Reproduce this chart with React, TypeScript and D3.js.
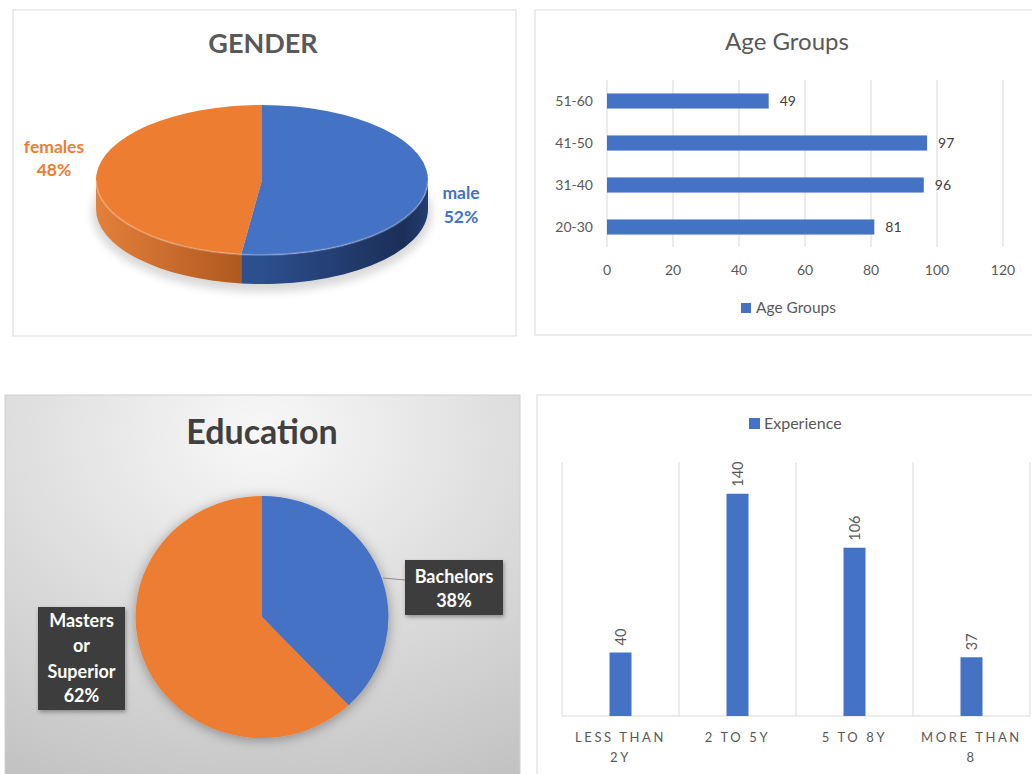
import React from 'react';
import * as d3 from 'd3';

// gender pie
const genderLabels = ['male', 'females'];
const genderValues = [52, 48];

// age groups bar chart (bottom to top)
const ageGroups = ['20-30', '31-40', '41-50', '51-60'];
const ageValues = [81, 96, 97, 49];
const ageTicks = [0, 20, 40, 60, 80, 100, 120];

// education pie
const educationLabels = ['Bachelors', 'Masters or Superior'];
const educationValues = [38, 62];

// experience column chart
const experienceCats = ['LESS THAN 2Y', '2 TO 5Y', '5 TO 8Y', 'MORE THAN 8'];
const experienceLines = [['LESS THAN', '2Y'], ['2 TO 5Y'], ['5 TO 8Y'], ['MORE THAN', '8']];
const experienceValues = [40, 140, 106, 37];

const BLUE = '#4472C4';
const ORANGE = '#ED7D31';
const FONT = "Lato, 'Open Sans', sans-serif";

const GenderPie: React.FC = () => {
  const cx = 262, cy = 180, rx = 166, ry = 75, depth = 29;
  const slices = d3.pie<number>().sort(null)(genderValues);
  const arc = d3.arc<d3.PieArcDatum<number>>().innerRadius(0).outerRadius(rx);
  const colors = [BLUE, ORANGE];
  const sides = ['url(#blueSide)', 'url(#orangeSide)'];

  const px = (a: number) => rx * Math.sin(a);
  const py = (a: number) => -ry * Math.cos(a);
  const sidePath = (a0: number, a1: number) => {
    const s = Math.max(a0, Math.PI / 2);
    const e = Math.min(a1, (3 * Math.PI) / 2);
    if (s >= e) return null;
    return `M${px(s)},${py(s)} A${rx},${ry} 0 0 1 ${px(e)},${py(e)} L${px(e)},${py(e) + depth} A${rx},${ry} 0 0 0 ${px(s)},${py(s) + depth} Z`;
  };
  const rimPath = (a0: number, a1: number) => {
    const s = Math.max(a0, Math.PI / 2);
    const e = Math.min(a1, (3 * Math.PI) / 2);
    if (s >= e) return null;
    return `M${px(s)},${py(s)} A${rx},${ry} 0 0 1 ${px(e)},${py(e)}`;
  };

  return (
    <g fontFamily={FONT}>
      <rect x={13} y={10} width={503} height={326} fill="#fff" stroke="#d9d9d9" />
      <text x={263} y={53} textAnchor="middle" fontWeight={700} fontSize={27} fill="#595959">GENDER</text>
      <g transform={`translate(${cx},${cy})`}>
        <ellipse cx={0} cy={depth + 4} rx={rx + 4} ry={ry + 4} fill="#000" opacity={0.15} filter="url(#blur4)" />
        {slices.map((s, i) => {
          const d = sidePath(s.startAngle, s.endAngle);
          return d ? <path key={'s' + i} d={d} fill={sides[i]} /> : null;
        })}
        <g transform={`scale(1,${ry / rx})`}>
          {slices.map((s, i) => (
            <path key={'t' + i} d={arc(s) || ''} fill={colors[i]} />
          ))}
        </g>
        {slices.map((s, i) => {
          const d = rimPath(s.startAngle, s.endAngle);
          return d ? <path key={'r' + i} d={d} fill="none" stroke="#fff" strokeOpacity={0.22} strokeWidth={2} /> : null;
        })}
      </g>
      <text x={54} y={153} textAnchor="middle" fontWeight={700} fontSize={17.5} fill={ORANGE}>{genderLabels[1]}</text>
      <text x={54} y={176} textAnchor="middle" fontWeight={700} fontSize={17.5} fill={ORANGE}>{genderValues[1]}%</text>
      <text x={461} y={199} textAnchor="middle" fontWeight={700} fontSize={17.5} fill={BLUE}>{genderLabels[0]}</text>
      <text x={461} y={223} textAnchor="middle" fontWeight={700} fontSize={17.5} fill={BLUE}>{genderValues[0]}%</text>
    </g>
  );
};

const AgeChart: React.FC = () => {
  const x = d3.scaleLinear().domain([0, 120]).range([607, 1003]);
  const y = d3.scaleBand<string>().domain([...ageGroups].reverse()).range([80, 248]).paddingInner(0.64).paddingOuter(0.32);
  return (
    <g fontFamily={FONT}>
      <rect x={535} y={10} width={520} height={325} fill="#fff" stroke="#d9d9d9" />
      <text x={787} y={50} textAnchor="middle" fontSize={24} fill="#595959">Age Groups</text>
      {ageTicks.map(t => (
        <g key={t}>
          <line x1={x(t)} x2={x(t)} y1={80} y2={247} stroke="#d9d9d9" />
          <text x={x(t)} y={275} textAnchor="middle" fontSize={14} fill="#595959">{t}</text>
        </g>
      ))}
      {ageGroups.map((g, i) => (
        <g key={g}>
          <rect x={x(0)} y={y(g)!} width={x(ageValues[i]) - x(0)} height={y.bandwidth()} fill={BLUE} />
          <text x={593} y={y(g)! + y.bandwidth() / 2 + 5} textAnchor="end" fontSize={14} fill="#595959">{g}</text>
          <text x={x(ageValues[i]) + 11} y={y(g)! + y.bandwidth() / 2 + 5} fontSize={14} fill="#404040">{ageValues[i]}</text>
        </g>
      ))}
      <rect x={741} y={303} width={10} height={10} fill={BLUE} />
      <text x={756} y={313} fontSize={15.5} fill="#595959">Age Groups</text>
    </g>
  );
};

const EducationPie: React.FC = () => {
  const cx = 262, cy = 617, r = 121;
  const slices = d3.pie<number>().sort(null)(educationValues);
  const arc = d3.arc<d3.PieArcDatum<number>>().innerRadius(0).outerRadius(r);
  const colors = [BLUE, ORANGE];
  return (
    <g fontFamily={FONT}>
      <rect x={5} y={395} width={515} height={390} fill="url(#eduBg)" stroke="#d0d0d0" />
      <text x={262} y={444} textAnchor="middle" fontSize={34} fontWeight={700} fill="#404040">Education</text>
      <g transform={`translate(${cx},${cy}) scale(1.045,1)`} filter="url(#pieShadow)">
        {slices.map((s, i) => (
          <path key={i} d={arc(s) || ''} fill={colors[i]} />
        ))}
      </g>
      <line x1={383} y1={578} x2={405} y2={580} stroke="#8c8c8c" strokeWidth={1} />
      <rect x={405} y={560} width={98} height={55} fill="#3d3d3d" filter="url(#boxShadow)" />
      <text x={454} y={583} textAnchor="middle" fontSize={18} fontWeight={700} fill="#fff">{educationLabels[0]}</text>
      <text x={454} y={607} textAnchor="middle" fontSize={18} fontWeight={700} fill="#fff">{educationValues[0]}%</text>
      <rect x={38} y={607} width={87} height={103} fill="#3d3d3d" filter="url(#boxShadow)" />
      {['Masters', 'or', 'Superior'].map((w, i) => (
        <text key={w} x={81.5} y={[627, 652, 678][i]} textAnchor="middle" fontSize={18} fontWeight={700} fill="#fff">{w}</text>
      ))}
      <text x={81.5} y={702} textAnchor="middle" fontSize={18} fontWeight={700} fill="#fff">{educationValues[1]}%</text>
    </g>
  );
};

const ExperienceChart: React.FC = () => {
  const x = d3.scaleBand<string>().domain(experienceCats).range([562, 1030]);
  const y = d3.scaleLinear().domain([0, 160]).range([716, 462]);
  const barW = 22;
  return (
    <g fontFamily={FONT}>
      <rect x={537} y={395} width={520} height={390} fill="#fff" stroke="#d9d9d9" />
      <rect x={749} y={418} width={11} height={11} fill={BLUE} />
      <text x={764} y={429} fontSize={16} fill="#595959">Experience</text>
      {experienceCats.map(c => (
        <line key={c} x1={x(c)!} x2={x(c)!} y1={462} y2={716} stroke="#d9d9d9" />
      ))}
      <line x1={1030} x2={1030} y1={462} y2={716} stroke="#d9d9d9" />
      <line x1={562} x2={1030} y1={716} y2={716} stroke="#d9d9d9" />
      {experienceCats.map((c, i) => {
        const mid = x(c)! + x.bandwidth() / 2;
        return (
          <g key={c}>
            <rect x={mid - barW / 2} y={y(experienceValues[i])} width={barW} height={y(0) - y(experienceValues[i])} fill={BLUE} />
            <text transform={`translate(${mid + 5},${y(experienceValues[i]) - 7}) rotate(-90)`} fontSize={14.5} fill="#595959">{experienceValues[i]}</text>
            {experienceLines[i].map((ln, j) => (
              <text key={j} x={mid} y={742 + j * 20} textAnchor="middle" fontSize={13} letterSpacing={2.6} fill="#595959">{ln}</text>
            ))}
          </g>
        );
      })}
    </g>
  );
};

export default function App() {
  return (
    <svg width={1032} height={774} style={{ position: 'absolute', left: 0, top: 0, background: '#fff' }}>
      <defs>
        <linearGradient id="orangeSide" gradientUnits="userSpaceOnUse" x1={-166} x2={0} y1={0} y2={0}>
          <stop offset="0" stopColor="#e3803a" />
          <stop offset="1" stopColor="#a8531c" />
        </linearGradient>
        <linearGradient id="blueSide" gradientUnits="userSpaceOnUse" x1={0} x2={166} y1={0} y2={0}>
          <stop offset="0" stopColor="#2c4f8e" />
          <stop offset="0.85" stopColor="#1b2f58" />
          <stop offset="1" stopColor="#243d70" />
        </linearGradient>
        <radialGradient id="eduBg" cx="50%" cy="10%" r="100%">
          <stop offset="0" stopColor="#f8f8f8" />
          <stop offset="1" stopColor="#c2c2c2" />
        </radialGradient>
        <filter id="blur4" x="-20%" y="-40%" width="140%" height="180%">
          <feGaussianBlur stdDeviation="4" />
        </filter>
        <filter id="pieShadow" x="-20%" y="-20%" width="140%" height="140%">
          <feDropShadow dx="0" dy="2" stdDeviation="6" floodColor="#000" floodOpacity="0.35" />
        </filter>
        <filter id="boxShadow" x="-20%" y="-20%" width="140%" height="140%">
          <feDropShadow dx="1" dy="2" stdDeviation="2" floodColor="#000" floodOpacity="0.35" />
        </filter>
      </defs>
      <GenderPie />
      <AgeChart />
      <EducationPie />
      <ExperienceChart />
    </svg>
  );
}
